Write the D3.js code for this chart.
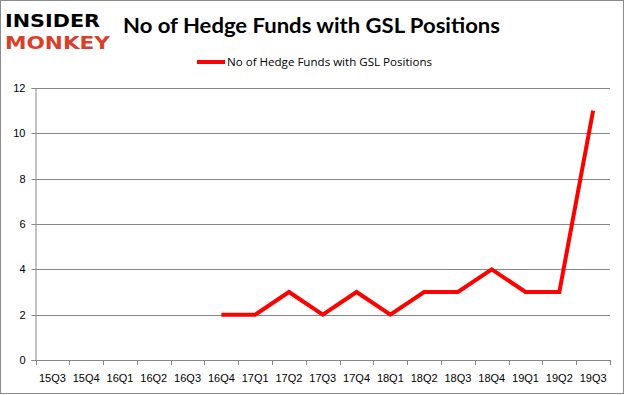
<!DOCTYPE html>
<html>
<head>
<meta charset="utf-8">
<script src="https://cdn.jsdelivr.net/npm/d3@7"></script>
<style>
  body { margin: 0; background: #fff; }
  svg { display: block; font-family: "Open Sans", "DejaVu Sans", sans-serif; }
  .axis text { font-size: 11px; fill: #000; }
</style>
</head>
<body>
<svg id="chart" width="625" height="395"></svg>
<script>
const quarters = ["15Q3", "15Q4", "16Q1", "16Q2", "16Q3", "16Q4", "17Q1", "17Q2", "17Q3",
  "17Q4", "18Q1", "18Q2", "18Q3", "18Q4", "19Q1", "19Q2", "19Q3"];
const hedgeFunds = [null, null, null, null, null, 2, 2, 3, 2, 3, 2, 3, 3, 4, 3, 3, 11];
const yTicks = [0, 2, 4, 6, 8, 10, 12];

const svg = d3.select("#chart");

// outer frame
svg.append("rect")
  .attr("x", 0.5).attr("y", 0.5)
  .attr("width", 623).attr("height", 393)
  .attr("fill", "#fff")
  .attr("stroke", "#8c8c8c");

const margin = { left: 35.5, right: 610, top: 88, bottom: 360 };

const x = d3.scaleBand()
  .domain(quarters)
  .range([margin.left, margin.right]);

const y = d3.scaleLinear()
  .domain([0, 12])
  .range([margin.bottom, margin.top]);

// gridlines
svg.append("g")
  .selectAll("line")
  .data(yTicks)
  .enter()
  .append("line")
  .attr("x1", margin.left)
  .attr("x2", margin.right)
  .attr("y1", (d) => Math.round(y(d)) + 0.5)
  .attr("y2", (d) => Math.round(y(d)) + 0.5)
  .style("stroke", "#868686");

// y axis
const yAxis = svg.append("g")
  .attr("class", "axis")
  .attr("transform", `translate(${margin.left},0)`)
  .call(d3.axisLeft(y).tickValues(yTicks).tickSize(4).tickPadding(6));
yAxis.select(".domain").style("stroke", "#868686");
yAxis.selectAll(".tick line").style("stroke", "#868686");
yAxis.selectAll(".tick").attr("transform", (d) => `translate(0,${Math.round(y(d)) + 0.5})`);

// x axis
const xAxis = svg.append("g")
  .attr("class", "axis")
  .attr("transform", `translate(0,${margin.bottom + 0.5})`)
  .call(d3.axisBottom(x).tickSize(0).tickPadding(14));
xAxis.select(".domain").remove();
xAxis.selectAll(".tick line").remove();

svg.append("g")
  .selectAll("line")
  .data(quarters.concat(["end"]))
  .enter()
  .append("line")
  .attr("x1", (d, i) => Math.round(margin.left + i * x.step()) + 0.5)
  .attr("x2", (d, i) => Math.round(margin.left + i * x.step()) + 0.5)
  .attr("y1", margin.bottom)
  .attr("y2", margin.bottom + 5)
  .style("stroke", "#868686");

// line
const line = d3.line()
  .defined((d) => d != null)
  .x((d, i) => x(quarters[i]) + x.bandwidth() / 2)
  .y((d) => y(d));

svg.append("path")
  .datum(hedgeFunds)
  .attr("d", line)
  .attr("fill", "none")
  .attr("stroke", "#ff0000")
  .attr("stroke-width", 4)
  .attr("stroke-linejoin", "miter");

// title
svg.append("text")
  .attr("x", 123)
  .attr("y", 33)
  .attr("font-size", "21px")
  .attr("font-weight", "bold")
  .attr("font-family", "Lato, 'Open Sans', sans-serif")
  .attr("textLength", 377)
  .attr("lengthAdjust", "spacingAndGlyphs")
  .text("No of Hedge Funds with GSL Positions");

// legend
svg.append("line")
  .attr("x1", 197).attr("x2", 225)
  .attr("y1", 62).attr("y2", 62)
  .attr("stroke", "#ff0000")
  .attr("stroke-width", 4);

svg.append("text")
  .attr("x", 227)
  .attr("y", 66)
  .attr("font-size", "11px")
  .attr("textLength", 205)
  .attr("lengthAdjust", "spacingAndGlyphs")
  .text("No of Hedge Funds with GSL Positions");

// logo
svg.append("text")
  .attr("x", 5)
  .attr("y", 27)
  .attr("font-size", "18px")
  .attr("font-weight", "bold")
  .attr("font-family", "'DejaVu Sans', sans-serif")
  .attr("textLength", 95)
  .attr("lengthAdjust", "spacingAndGlyphs")
  .text("INSIDER");

svg.append("text")
  .attr("x", 5)
  .attr("y", 49)
  .attr("font-size", "18px")
  .attr("font-weight", "bold")
  .attr("font-family", "'DejaVu Sans', sans-serif")
  .attr("fill", "#d9402a")
  .attr("textLength", 105)
  .attr("lengthAdjust", "spacingAndGlyphs")
  .text("MONKEY");
</script>
</body>
</html>
